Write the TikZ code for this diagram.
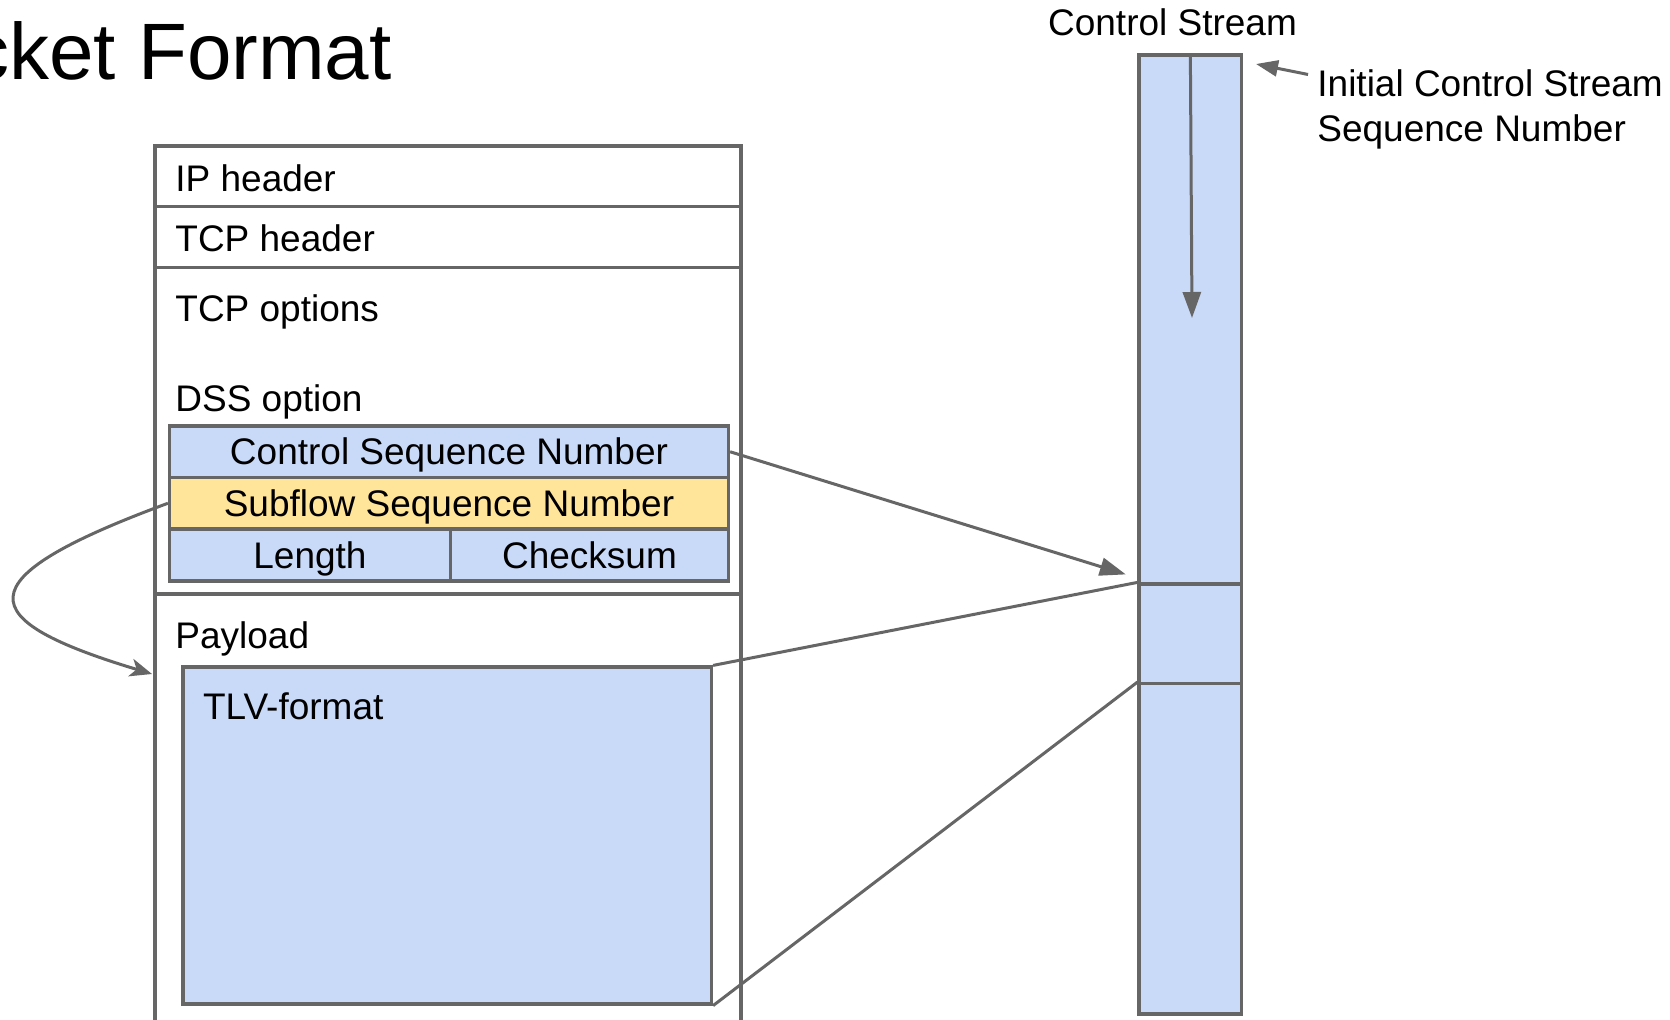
\documentclass[tikz,border=0pt]{standalone}
\usepackage{fontspec}
\setmainfont{Liberation Sans}
\usetikzlibrary{arrows.meta}

\definecolor{linegray}{HTML}{666666}
\definecolor{fieldblue}{HTML}{C9DAF8}
\definecolor{fieldyellow}{HTML}{FFE599}

\tikzset{
  frame/.style={draw=linegray, line width=1.6pt},
  field/.style={frame, fill=fieldblue, inner sep=0pt, text height=13pt, text depth=0pt,
    font=\fontsize{18.5pt}{22pt}\selectfont},
  lbl/.style={anchor=base west, inner sep=0pt, font=\fontsize{18.5pt}{22pt}\selectfont},
  link/.style={draw=linegray, line width=1.5pt},
  arr/.style={link, -{Triangle[length=13pt,width=9pt]}},
}

\begin{document}
\begin{tikzpicture}[x=0.5pt, y=-0.5pt]
  \useasboundingbox (0,0) rectangle (1670,1019);

  % title, cut at the left border
  \node[anchor=base east, inner sep=0pt, font=\fontsize{40pt}{48pt}\selectfont] (title) at (392,79) {cket Format};

  % packet frame
  \draw[frame] (155,1030) -- (155,146) -- (741,146) -- (741,1030);
  \draw[frame] (155,206.7) -- (741,206.7);
  \draw[frame] (155,267.7) -- (741,267.7);
  \draw[frame] (155,594) -- (741,594);

  \node[lbl] (iphdr) at (175,191.7) {IP header};
  \node[lbl] (tcphdr) at (175,251.7) {TCP header};
  \node[lbl] (tcpopt) at (175,321.7) {TCP options};
  \node[lbl] (dssopt) at (175,411.7) {DSS option};
  \node[lbl] (payload) at (175,648) {Payload};

  % DSS option fields
  \node[field, minimum width=279.5pt, minimum height=25.75pt] (csn) at (449,451.75) {Control Sequence Number};
  \node[field, fill=fieldyellow, minimum width=279.5pt, minimum height=25.75pt] (ssn) at (449,503.25) {Subflow Sequence Number};
  \node[field, minimum width=140.5pt, minimum height=26pt] (len) at (310,555) {Length};
  \node[field, minimum width=139pt, minimum height=26pt] (chk) at (589.5,555) {Checksum};

  % payload
  \node[field, minimum width=264.25pt, minimum height=168.5pt] (tlv) at (447.25,835.5) {};
  \node[lbl] (tlvlbl) at (202.7,719) {TLV-format};

  % control stream
  \node[lbl, anchor=base] (cslbl) at (1172.5,35) {Control Stream};
  \node[field, minimum width=51.35pt, minimum height=264.5pt] (cs1) at (1190.35,319.5) {};
  \node[field, minimum width=51.35pt, minimum height=49.85pt] (cs2) at (1190.35,633.85) {};
  \node[field, minimum width=51.35pt, minimum height=165.15pt] (cs3) at (1190.35,848.85) {};

  \node[lbl] (initlbl) at (1317,96.7) {Initial Control Stream};
  \node[lbl] (seqlbl) at (1317,141) {Sequence Number};

  \coordinate (csend) at (1192,318);
  \coordinate (initpt) at (1256,64);
  \coordinate (payin) at (152,674);

  % connectors
  \draw[arr] (cs1.north) -- (csend);
  \draw[arr, -{Triangle[length=11pt,width=8pt]}] ([shift={(-4.5pt,4.5pt)}]initlbl.west) -- (initpt);
  \draw[arr] (csn.east) -- ([shift={(-5.8pt,4pt)}]cs2.north west);
  \draw[link] (tlv.north east) -- (cs2.north west);
  \draw[link] (tlv.south east) -- (cs3.north west);
  \draw[link, -{Stealth[length=11pt,width=9pt,inset=3pt]}] (ssn.west) .. controls (-40,580) and (-27,620) .. (payin);
\end{tikzpicture}
\end{document}
